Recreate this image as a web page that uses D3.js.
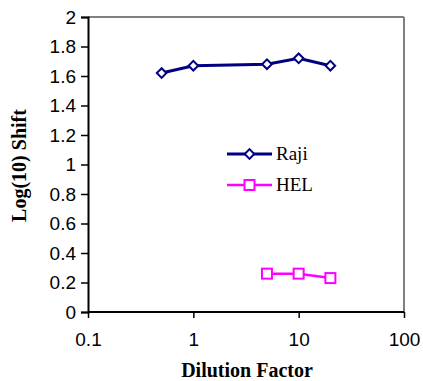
<!DOCTYPE html>
<html>
<head>
<meta charset="utf-8">
<script src="https://cdn.jsdelivr.net/npm/d3@7"></script>
<style>
  body { margin: 0; background: #fff; }
  .tick text { font-family: "Liberation Sans", Arial, sans-serif; font-size: 19px; fill: #000; }
</style>
</head>
<body>
<div id="chart"></div>
<script>
// data
var rajiX = [0.5, 1, 5, 10, 20];
var rajiY = [1.62, 1.67, 1.68, 1.72, 1.67];
var helX = [5, 10, 20];
var helY = [0.26, 0.26, 0.23];
var xTicks = [0.1, 1, 10, 100];
var yTicks = [0, 0.2, 0.4, 0.6, 0.8, 1, 1.2, 1.4, 1.6, 1.8, 2];

var margin = {top: 17, right: 19, bottom: 69, left: 88},
  width = 423 - margin.left - margin.right,
  height = 381 - margin.top - margin.bottom;

var svg = d3.select("#chart")
  .append("svg")
    .attr("width", 423)
    .attr("height", 381)
  .append("g")
    .attr("transform", "translate(" + margin.left + "," + margin.top + ")");

var x = d3.scaleLog().domain([0.1, 100]).range([0, width]);
var y = d3.scaleLinear().domain([0, 2]).range([height, 0]);

// top and right border in grey
svg.append("line").attr("x1", 0).attr("x2", width).attr("y1", 0).attr("y2", 0)
  .style("stroke", "#808080").style("stroke-width", 2);
svg.append("line").attr("x1", width).attr("x2", width).attr("y1", 0).attr("y2", height)
  .style("stroke", "#808080").style("stroke-width", 2);

// y axis
var yAxis = svg.append("g")
  .call(d3.axisLeft(y).tickValues(yTicks).tickSize(7).tickPadding(5).tickFormat(d3.format("")));
yAxis.select(".domain").style("stroke", "#000").style("stroke-width", 2);
yAxis.selectAll(".tick line").style("stroke", "#000").style("stroke-width", 1.5);

// x axis
var xAxis = svg.append("g")
  .attr("transform", "translate(0," + height + ")")
  .call(d3.axisBottom(x).tickValues(xTicks).tickSize(6).tickPadding(15).tickFormat(d3.format("")));
xAxis.select(".domain").attr("d", "M0,0H" + width).style("stroke", "#000").style("stroke-width", 2);
xAxis.selectAll(".tick line").style("stroke", "#000").style("stroke-width", 1.5);

// lines
var line = d3.line().x(function(d) { return x(d[0]); }).y(function(d) { return y(d[1]); });
var raji = d3.zip(rajiX, rajiY);
var hel = d3.zip(helX, helY);

svg.append("path").datum(raji).attr("d", line)
  .style("fill", "none").style("stroke", "#000080").style("stroke-width", 3);
svg.append("path").datum(hel).attr("d", line)
  .style("fill", "none").style("stroke", "#FF00FF").style("stroke-width", 2.5);

var diamond = d3.symbol().type(d3.symbolSquare).size(46);
svg.selectAll(".raji")
  .data(raji).enter()
  .append("path")
    .attr("d", diamond)
    .attr("transform", function(d) { return "translate(" + x(d[0]) + "," + y(d[1]) + ") rotate(45)"; })
    .style("fill", "#fff").style("stroke", "#000080").style("stroke-width", 2);

svg.selectAll(".hel")
  .data(hel).enter()
  .append("rect")
    .attr("x", function(d) { return x(d[0]) - 5; })
    .attr("y", function(d) { return y(d[1]) - 5; })
    .attr("width", 10).attr("height", 10)
    .style("fill", "#fff").style("stroke", "#FF00FF").style("stroke-width", 2);

// legend
var serif = "'Liberation Serif', 'Times New Roman', serif";
var legend = svg.append("g").attr("transform", "translate(139,137)");
legend.append("line").attr("x1", 0).attr("x2", 45).attr("y1", 0).attr("y2", 0)
  .style("stroke", "#000080").style("stroke-width", 3);
legend.append("path").attr("d", diamond).attr("transform", "translate(22.5,0) rotate(45)")
  .style("fill", "#fff").style("stroke", "#000080").style("stroke-width", 2);
legend.append("text").attr("x", 49).attr("y", 6)
  .style("font-family", serif).style("font-size", "19px")
  .text("Raji");
legend.append("line").attr("x1", 0).attr("x2", 45).attr("y1", 31).attr("y2", 31)
  .style("stroke", "#FF00FF").style("stroke-width", 2.5);
legend.append("rect").attr("x", 17.5).attr("y", 26).attr("width", 10).attr("height", 10)
  .style("fill", "#fff").style("stroke", "#FF00FF").style("stroke-width", 2);
legend.append("text").attr("x", 49).attr("y", 37)
  .style("font-family", serif).style("font-size", "19px")
  .text("HEL");

// axis titles
svg.append("text")
  .attr("x", width / 2 + 1)
  .attr("y", height + 65)
  .attr("text-anchor", "middle")
  .style("font-family", serif)
  .style("font-size", "20px")
  .style("font-weight", "bold")
  .text("Dilution Factor");

svg.append("text")
  .attr("transform", "translate(-62," + (height / 2 + 1) + ") rotate(-90)")
  .attr("text-anchor", "middle")
  .style("font-family", serif)
  .style("font-size", "20px")
  .style("font-weight", "bold")
  .text("Log(10) Shift");
</script>
</body>
</html>
